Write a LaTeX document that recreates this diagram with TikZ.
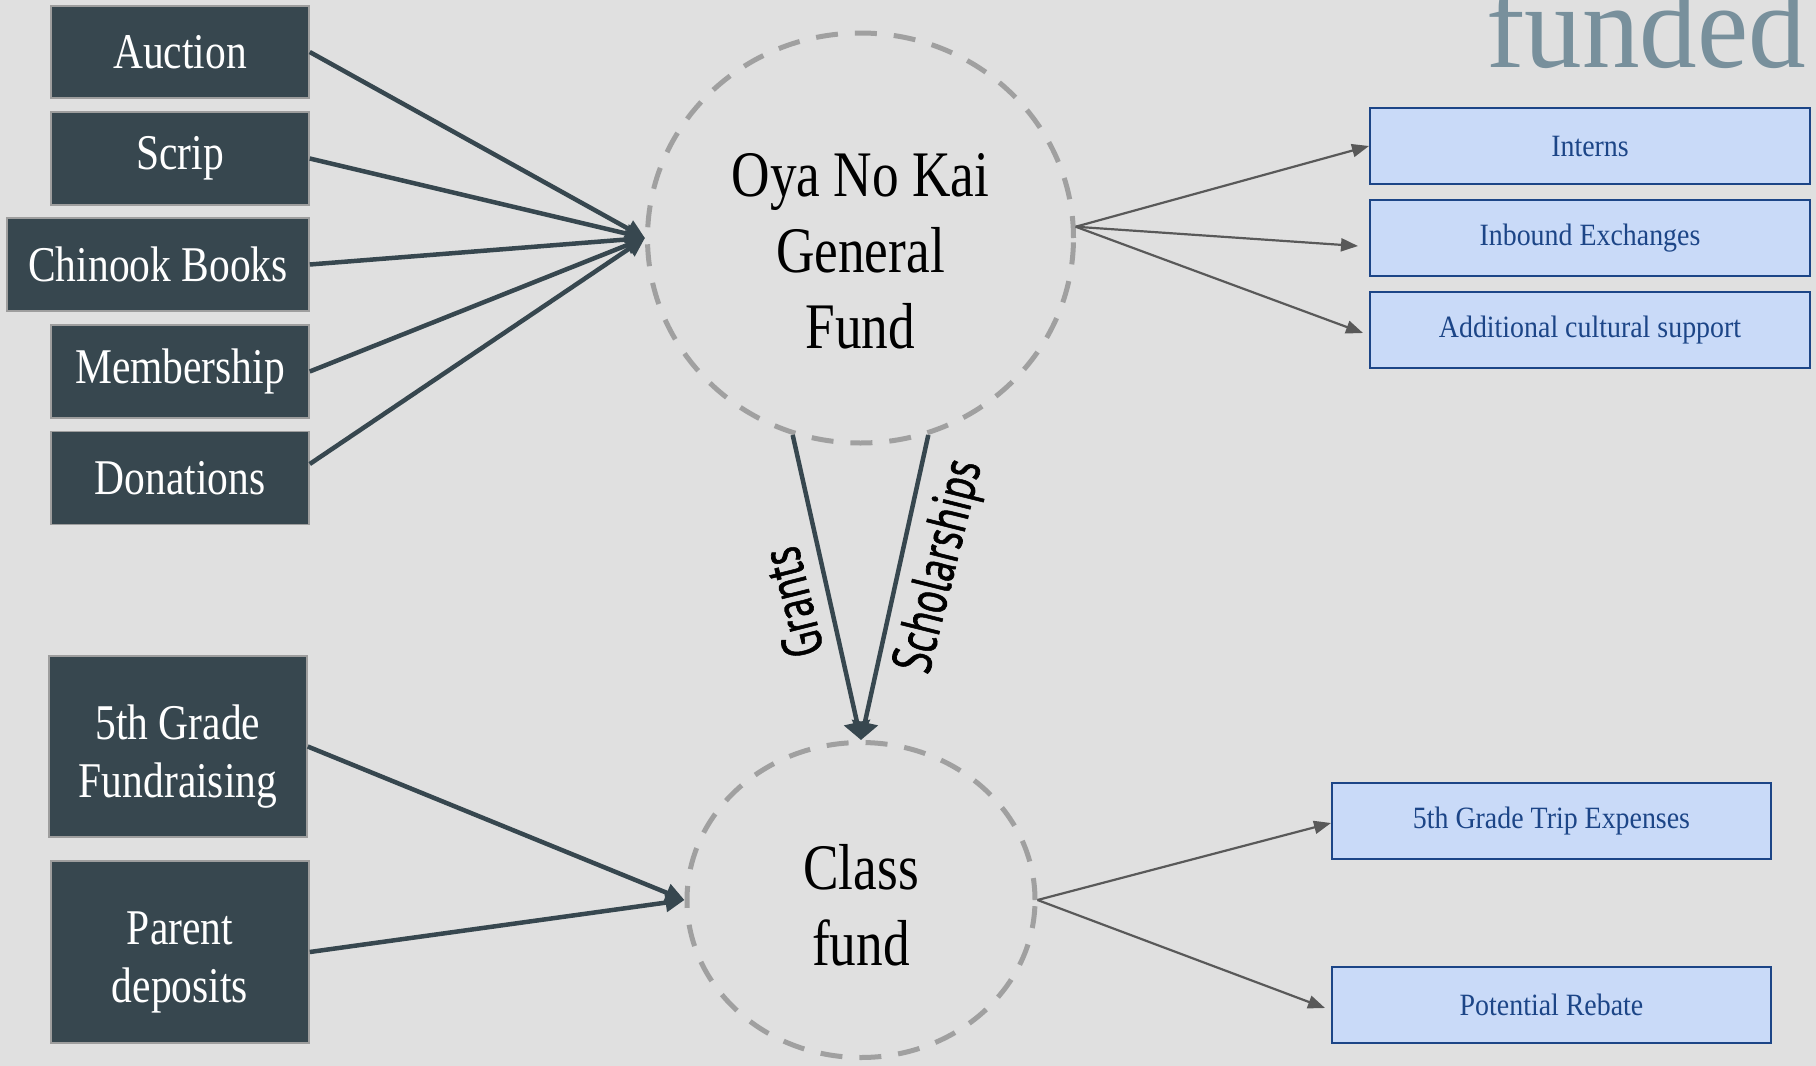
\documentclass[tikz,border=0pt]{standalone}
\usepackage{fontspec}
\usepackage{graphicx}
\usetikzlibrary{arrows.meta,shapes.geometric}
\newfontfamily\boxf[FakeStretch=0.83]{Liberation Serif}
\newfontfamily\circf[FakeStretch=0.82]{Liberation Serif}
\newfontfamily\outf[FakeStretch=0.9]{Liberation Serif}
\newfontfamily\fundf[FakeStretch=0.96]{Liberation Serif}
\newfontfamily\labf[FakeBold=1.2]{PT Sans}
\newcommand{\narrowlab}[1]{\scalebox{0.72}[1]{#1}}
\definecolor{colBg}{HTML}{E0E0E0}
\definecolor{colDark}{HTML}{37474F}
\definecolor{colBoxLine}{HTML}{9E9E9E}
\definecolor{colDash}{HTML}{A0A0A0}
\definecolor{colBlueFill}{HTML}{C9DAF8}
\definecolor{colBlueLine}{HTML}{1C4587}
\definecolor{colThin}{HTML}{595959}
\definecolor{colFunded}{HTML}{78909C}
\begin{document}
\begin{tikzpicture}[x=1pt,y=-1pt,
  srcbox/.style={draw=colBoxLine, line width=1.5pt, fill=colDark, text=white, inner sep=0pt,
    font=\boxf\fontsize{50}{58}\selectfont, align=center},
  srctext/.style={text=white, inner sep=0pt, font=\boxf\fontsize{50}{58}\selectfont, align=center},
  fundc/.style={ellipse, draw=colDash, line width=5pt, dash pattern=on 22pt off 17pt, inner sep=0pt},
  fundtext/.style={inner sep=0pt, font=\circf\fontsize{65}{76}\selectfont, align=center, text=black},
  outbox/.style={draw=colBlueLine, line width=2pt, fill=colBlueFill, text=colBlueLine,
    inner sep=0pt, minimum width=440pt, minimum height=76pt, font=\outf\fontsize{31}{36}\selectfont},
  darr/.style={draw=colDark, line width=4.5pt, -{Triangle[length=19pt,width=18pt]}},
  varr/.style={draw=colDark, line width=4.5pt, -{Triangle[length=18pt,width=26pt]}},
  tarr/.style={draw=colThin, line width=2.2pt, -{Triangle[length=17pt,width=13pt]}},
  lab/.style={font=\labf\fontsize{56}{62}\selectfont, text=black}]
\fill[colBg] (0,0) rectangle (1816,1066);
\useasboundingbox (0,0) rectangle (1816,1066);

% title fragment
\node[anchor=base west, inner sep=0pt, text=colFunded, font=\fundf\fontsize{120}{130}\selectfont] (fundedt) at (1486,67) {funded};

% source boxes
\node[srcbox, minimum width=258pt, minimum height=92pt] (auc) at (180,52) {Auction};
\node[srcbox, minimum width=258pt, minimum height=93pt] (scr) at (180,158.5) {Scrip};
\node[srcbox, minimum width=302pt, minimum height=93pt] (chi) at (158,264.5) {Chinook Books};
\node[srcbox, minimum width=258pt, minimum height=93pt] (mem) at (180,371.5) {Membership};
\node[srcbox, minimum width=258pt, minimum height=93pt] (don) at (180,478) {Donations};
\node[srcbox, minimum width=258pt, minimum height=181pt] (fgf) at (178,746.5) {};
\node[srctext] (fgft) at (178,757) {5th Grade\\Fundraising};
\node[srcbox, minimum width=258pt, minimum height=182pt] (par) at (180,952) {};
\node[srctext] (part) at (180,962) {Parent\\deposits};

% funds
\node[fundc, minimum width=426pt, minimum height=410pt] (c1) at (860.5,238) {};
\node[fundtext] (c1t) at (860.5,251) {Oya No Kai\\General\\Fund};
\node[fundc, minimum width=348pt, minimum height=315pt] (c2) at (861,900) {};
\node[fundtext] (c2t) at (861,905) {Class\\fund};

% outputs
\node[outbox] (int) at (1590,146) {Interns};
\node[outbox] (inb) at (1590,238) {Inbound Exchanges};
\node[outbox] (add) at (1590,330) {Additional cultural support};
\node[outbox, minimum width=439pt] (trip) at (1551.5,821) {5th Grade Trip Expenses};
\node[outbox, minimum width=439pt] (reb) at (1551.5,1005) {Potential Rebate};

% incoming arrows
\draw[darr] (auc.east) -- (c1.west);
\draw[darr] (scr.east) -- (c1.west);
\draw[darr] (chi.east) -- (c1.west);
\draw[darr] (mem.east) -- (c1.west);
\draw[darr] ([yshift=14pt]don.east) -- (c1.west);
\draw[darr] (fgf.east) -- (c2.west);
\draw[darr] (par.east) -- (c2.west);

% grants / scholarships
\draw[varr] (c1.251) -- node[lab, pos=0.52, rotate=104, anchor=south, inner sep=15pt] {\narrowlab{Grants}} (c2.north);
\draw[varr] (c1.289) -- node[lab, pos=0.40, rotate=76, anchor=north, inner sep=13pt] {\narrowlab{Scholarships}} (c2.north);

% outgoing arrows
\draw[tarr] (c1.3.5) -- (int.west);
\draw[tarr] (c1.3.5) -- ([xshift=-11pt,yshift=-8pt]inb.west);
\draw[tarr] (c1.3.5) -- ([xshift=-6pt,yshift=-3pt]add.west);
\draw[tarr] (c2.east) -- ([yshift=-2pt]trip.west);
\draw[tarr] (c2.east) -- ([xshift=-6pt,yshift=-3pt]reb.west);
\end{tikzpicture}
\end{document}
